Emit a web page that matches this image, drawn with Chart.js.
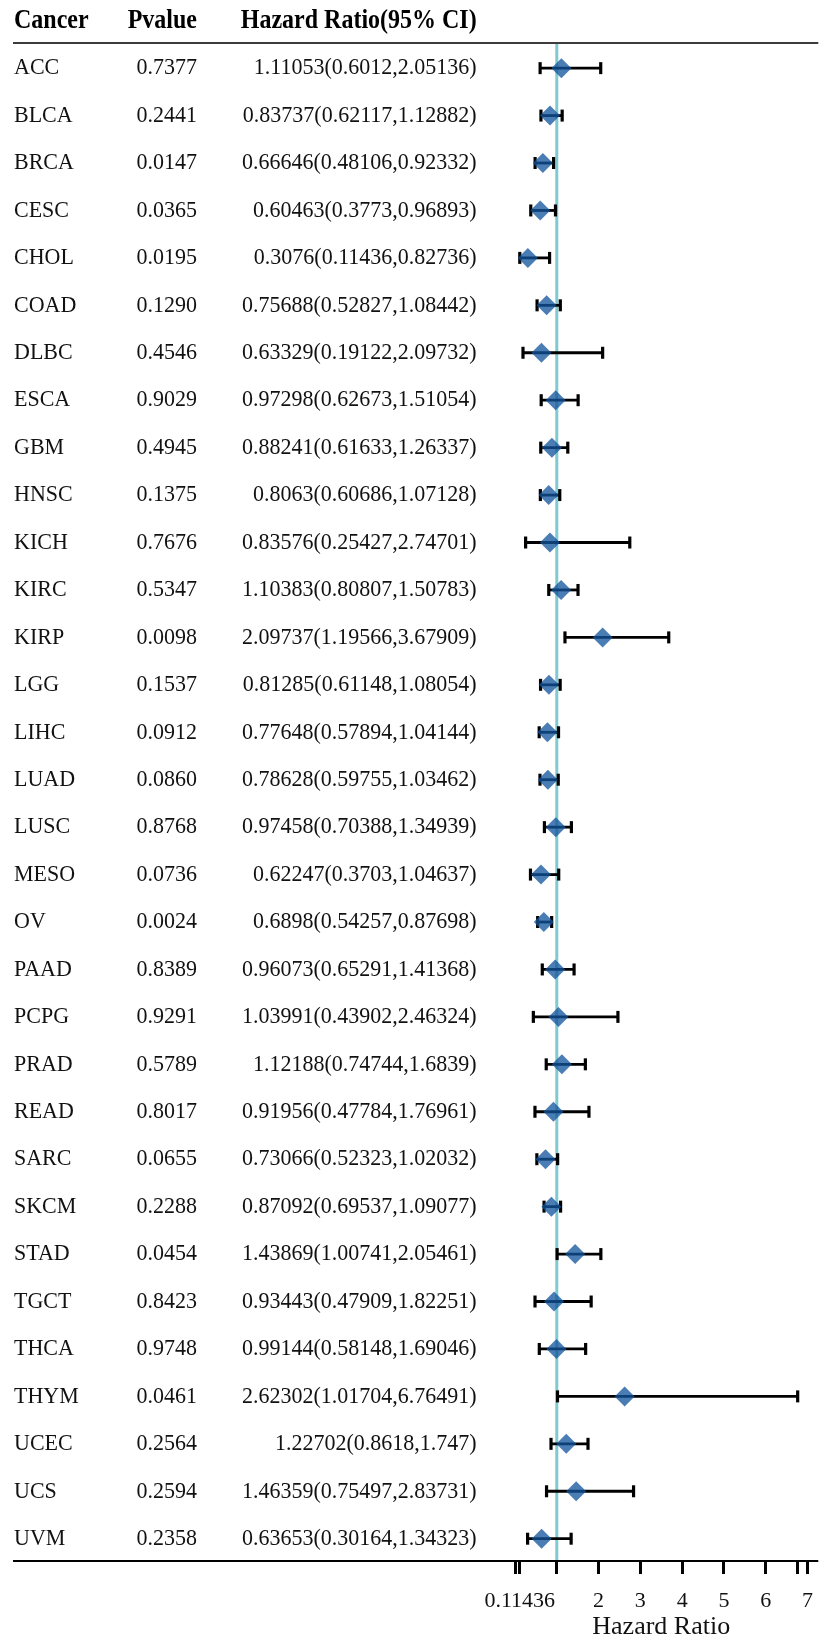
<!DOCTYPE html>
<html>
<head>
<meta charset="utf-8">
<script src="https://cdn.jsdelivr.net/npm/chart.js@4.4.1/dist/chart.umd.min.js"></script>
<style>
  html, body { margin: 0; padding: 0; background: #fff; overflow: hidden; }
  #wrap { width: 827px; height: 1640px; position: relative; }
</style>
</head>
<body>
<div id="wrap"><canvas id="c" width="827" height="1640"></canvas></div>
<script>
// ---------------- data ----------------
const cancers = ['ACC','BLCA','BRCA','CESC','CHOL','COAD','DLBC','ESCA','GBM','HNSC','KICH','KIRC','KIRP','LGG','LIHC','LUAD','LUSC','MESO','OV','PAAD','PCPG','PRAD','READ','SARC','SKCM','STAD','TGCT','THCA','THYM','UCEC','UCS','UVM'];
const pvalues = ['0.7377','0.2441','0.0147','0.0365','0.0195','0.1290','0.4546','0.9029','0.4945','0.1375','0.7676','0.5347','0.0098','0.1537','0.0912','0.0860','0.8768','0.0736','0.0024','0.8389','0.9291','0.5789','0.8017','0.0655','0.2288','0.0454','0.8423','0.9748','0.0461','0.2564','0.2594','0.2358'];
const hr = [1.11053,0.83737,0.66646,0.60463,0.3076,0.75688,0.63329,0.97298,0.88241,0.8063,0.83576,1.10383,2.09737,0.81285,0.77648,0.78628,0.97458,0.62247,0.6898,0.96073,1.03991,1.12188,0.91956,0.73066,0.87092,1.43869,0.93443,0.99144,2.62302,1.22702,1.46359,0.63653];
const lower = [0.6012,0.62117,0.48106,0.3773,0.11436,0.52827,0.19122,0.62673,0.61633,0.60686,0.25427,0.80807,1.19566,0.61148,0.57894,0.59755,0.70388,0.3703,0.54257,0.65291,0.43902,0.74744,0.47784,0.52323,0.69537,1.00741,0.47909,0.58148,1.01704,0.8618,0.75497,0.30164];
const upper = [2.05136,1.12882,0.92332,0.96893,0.82736,1.08442,2.09732,1.51054,1.26337,1.07128,2.74701,1.50783,3.67909,1.08054,1.04144,1.03462,1.34939,1.04637,0.87698,1.41368,2.46324,1.6839,1.76961,1.02032,1.09077,2.05461,1.82251,1.69046,6.76491,1.747,2.83731,1.34323];
const headers = ['Cancer', 'Pvalue', 'Hazard Ratio(95% CI)'];
const tickValues = [0, 0.11436, 1, 2, 3, 4, 5, 6, 6.76491, 7];
const tickLabels = ['', '0.11436', '', '2', '3', '4', '5', '6', '', '7'];
const refValue = 1;
const axisTitle = 'Hazard Ratio';

const hrText = hr.map((v, i) => String(v) + '(' + String(lower[i]) + ',' + String(upper[i]) + ')');

// ---------------- style ----------------
const SERIF = '"Liberation Serif", "Times New Roman", Times, serif';
const TEXT = '#111';
const TABLE_LEFT = 13;
const TABLE_RIGHT = 818.3;

// CI datasets (one per row)
const ciSets = cancers.map((c, i) => ({
  type: 'scatter',
  label: c,
  data: [{x: lower[i], y: i}, {x: upper[i], y: i}],
  showLine: true,
  borderColor: '#000',
  borderWidth: 2.8,
  pointStyle: 'line',
  pointRotation: 90,
  pointRadius: 6,
  pointBorderWidth: 3.2,
  pointBorderColor: '#000',
  pointBackgroundColor: '#000',
  clip: false,
  order: 2
}));

const diamondSet = {
  type: 'scatter',
  label: 'HR',
  data: hr.map((v, i) => ({x: v, y: i})),
  pointStyle: 'rectRot',
  pointRadius: 10,
  pointBorderWidth: 0,
  pointBackgroundColor: 'rgba(18,84,158,0.76)',
  pointBorderColor: 'rgba(0,0,0,0)',
  clip: false,
  order: 1
};

function stretchedText(ctx, txt, x, y, align, sy) {
  ctx.save();
  ctx.translate(x, y);
  ctx.scale(1, sy);
  ctx.textAlign = align;
  ctx.textBaseline = 'middle';
  ctx.fillText(txt, 0, 0);
  ctx.restore();
}

const forestPlugin = {
  id: 'forestTable',
  beforeDatasetsDraw(chart) {
    const {ctx, chartArea, scales} = chart;
    const xr = scales.x.getPixelForValue(refValue);
    ctx.save();
    ctx.strokeStyle = '#7fc9d1';
    ctx.lineWidth = 3;
    ctx.beginPath();
    ctx.moveTo(xr, chartArea.top);
    ctx.lineTo(xr, chartArea.bottom);
    ctx.stroke();
    ctx.restore();
  },
  afterDraw(chart) {
    const {ctx, chartArea, scales} = chart;
    const ys = scales.y;
    ctx.save();
    // header
    ctx.fillStyle = '#000';
    ctx.font = 'bold 24px ' + SERIF;
    const hy = chartArea.top - 22.5;
    stretchedText(ctx, headers[0], 14, hy, 'left', 1.13);
    stretchedText(ctx, headers[1], 197, hy, 'right', 1.13);
    stretchedText(ctx, headers[2], 476.7, hy, 'right', 1.13);
    // table lines
    ctx.strokeStyle = '#3c3c3c';
    ctx.lineWidth = 2;
    ctx.beginPath();
    ctx.moveTo(TABLE_LEFT, chartArea.top);
    ctx.lineTo(TABLE_RIGHT, chartArea.top);
    ctx.stroke();
    ctx.strokeStyle = '#000';
    ctx.lineWidth = 2;
    ctx.beginPath();
    ctx.moveTo(TABLE_LEFT, chartArea.bottom);
    ctx.lineTo(TABLE_RIGHT, chartArea.bottom);
    ctx.stroke();
    // rows
    ctx.fillStyle = TEXT;
    ctx.font = '22px ' + SERIF;
    cancers.forEach((c, i) => {
      const y = ys.getPixelForValue(i);
      stretchedText(ctx, c, 14, y, 'left', 1.08);
      stretchedText(ctx, pvalues[i], 197, y, 'right', 1.08);
      stretchedText(ctx, hrText[i], 476.7, y, 'right', 1.08);
    });
    ctx.restore();
  }
};

new Chart(document.getElementById('c'), {
  type: 'scatter',
  data: { datasets: [diamondSet, ...ciSets] },
  options: {
    responsive: false,
    devicePixelRatio: 1,
    animation: false,
    events: [],
    layout: { padding: { left: 515, right: 827 - TABLE_RIGHT, top: 43, bottom: 0 } },
    plugins: { legend: { display: false }, tooltip: { enabled: false }, title: { display: false } },
    scales: {
      y: {
        type: 'linear',
        reverse: true,
        min: -0.53,
        max: 31.47,
        display: false
      },
      x: {
        type: 'linear',
        position: 'bottom',
        min: 0,
        max: 7,
        afterBuildTicks(axis) { axis.ticks = tickValues.map(v => ({value: v})); },
        afterFit(axis) { axis.height = 79; },
        border: { display: false },
        grid: {
          display: true,
          drawOnChartArea: false,
          drawTicks: true,
          tickLength: 13,
          tickWidth: 3,
          tickColor: '#000'
        },
        ticks: {
          autoSkip: false,
          maxRotation: 0,
          minRotation: 0,
          padding: 14,
          color: TEXT,
          font: { family: SERIF, size: 22 },
          callback: (v, idx) => tickLabels[idx]
        },
        title: {
          display: true,
          text: axisTitle,
          color: TEXT,
          font: { family: SERIF, size: 26, lineHeight: 1 },
          padding: 0
        }
      }
    }
  },
  plugins: [forestPlugin]
});
</script>
</body>
</html>
